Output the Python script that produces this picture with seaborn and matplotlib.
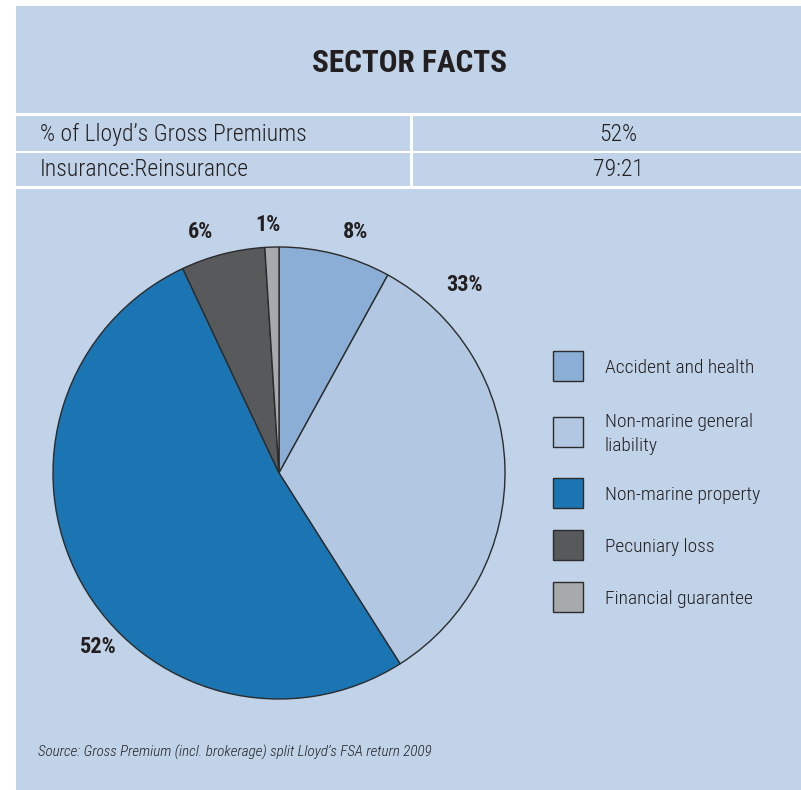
import matplotlib
matplotlib.use("Agg")
import numpy as np
import matplotlib.pyplot as plt
from matplotlib.patches import Rectangle
import seaborn as sns

# Sector breakdown of gross premium
categories = ["Accident and health", "Non-marine general\nliability",
              "Non-marine property", "Pecuniary loss", "Financial guarantee"]
shares = [8, 33, 52, 6, 1]
colors = ["#8AAED5", "#B2C8E2", "#1C75B3", "#58595B", "#A7A9AC"]

# Percent label placement: (angle in degrees, radius as multiple of pie radius)
label_pos = [(72.5, 1.12), (45.3, 1.17), (224.0, 1.11), (108.0, 1.12), (92.5, 1.10)]

# Facts table
fact_names = ["% of Lloyd\u2019s Gross Premiums", "Insurance:Reinsurance"]
fact_values = ["52%", "79:21"]

title = "SECTOR FACTS"
source = "Source: Gross Premium (incl. brokerage) split Lloyd\u2019s FSA return 2009"

sns.set_theme(style="white")
FONT = ["Roboto Condensed", "DejaVu Sans"]
plt.rcParams["font.family"] = FONT

BG = "#C0D3E8"
INK = "#231F20"
W, H = 801, 790

fig = plt.figure(figsize=(W / 100, H / 100), dpi=100, facecolor="white")


def fx(px):
    return px / W


def fy(py):
    return 1 - py / H


# Background panel
fig.patches.append(Rectangle((fx(16), 0), 1 - fx(16), fy(6), transform=fig.transFigure,
                             facecolor=BG, edgecolor="none", zorder=0))
# White rules of the facts table
for y0, y1 in [(113, 116), (151, 153), (186, 189)]:
    fig.patches.append(Rectangle((fx(16), fy(y1)), 1 - fx(16), fy(y0) - fy(y1),
                                 transform=fig.transFigure, facecolor="white",
                                 edgecolor="none", zorder=1))
fig.patches.append(Rectangle((fx(410), fy(186)), fx(2.5), fy(116) - fy(186),
                             transform=fig.transFigure, facecolor="white",
                             edgecolor="none", zorder=1))

fig.text(fx(410), fy(63), title, ha="center", va="center", fontsize=22.5,
         fontweight="bold", color=INK)

for i, (name, val) in enumerate(zip(fact_names, fact_values)):
    yc = fy(134.5 + 35 * i)
    fig.text(fx(40), yc, name, ha="left", va="center", fontsize=17,
             fontweight="light", color=INK)
    fig.text(fx(618), yc, val, ha="center", va="center", fontsize=17,
             fontweight="light", color=INK)

fig.text(fx(38), fy(752), source, ha="left", va="center", fontsize=10.8,
         style="italic", fontweight="light", color=INK)

# Pie chart
cx, cy, r = 279, 473, 226
ax = fig.add_axes([fx(cx - r), fy(cy + r), 2 * r / W, 2 * r / H])
ax.set_zorder(2)
ax.set_facecolor("none")
wedges, _ = ax.pie(shares, colors=colors, startangle=90, counterclock=False,
                   wedgeprops=dict(edgecolor="#2B2B2B", linewidth=1.0))
ax.set_xlim(-1, 1)
ax.set_ylim(-1, 1)
ax.set_aspect("equal")
ax.axis("off")

for val, (ang, rad) in zip(shares, label_pos):
    a = np.deg2rad(ang)
    ax.text(rad * np.cos(a), rad * np.sin(a), f"{val}%", ha="center", va="center",
            fontsize=16, fontweight="bold", color=INK, clip_on=False)

# Legend
lx, box = 553, 30
leg_y = [366, 432, 493, 545, 597]
for cat, col, yc in zip(categories, colors, leg_y):
    fig.patches.append(Rectangle((fx(lx), fy(yc + box / 2)), box / W, box / H,
                                 transform=fig.transFigure, facecolor=col,
                                 edgecolor="#2B2B2B", linewidth=1.0, zorder=3))
    fig.text(fx(605), fy(yc + 2), cat, ha="left", va="center", fontsize=14,
             fontweight="light", color=INK, linespacing=1.45)

fig.savefig("out.png", dpi=100, facecolor="white")
